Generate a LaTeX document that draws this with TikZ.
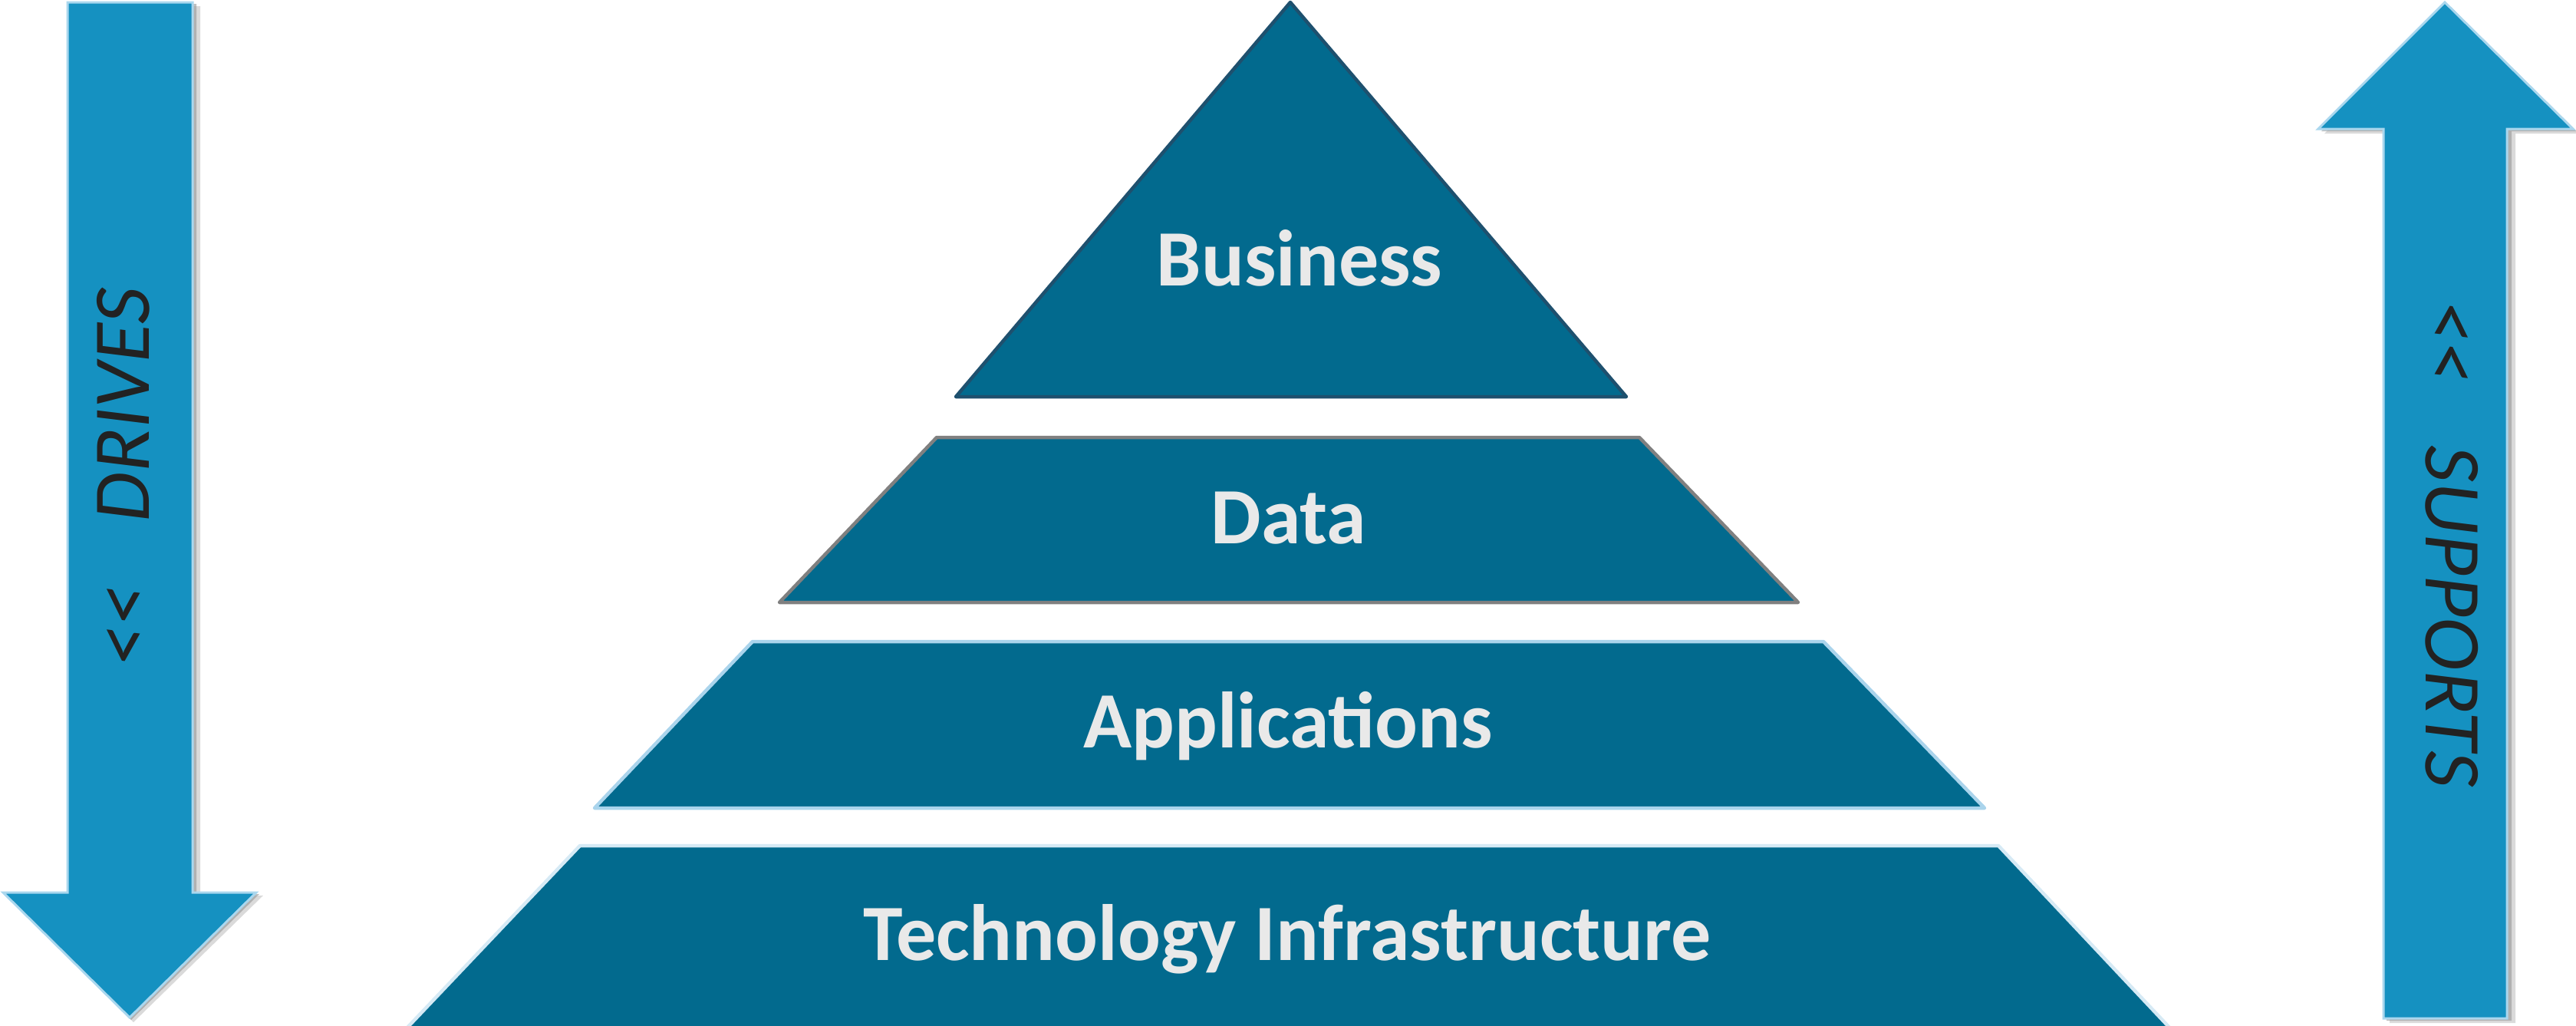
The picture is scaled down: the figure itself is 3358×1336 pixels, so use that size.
\documentclass[tikz,border=0pt]{standalone}
\usepackage{fontspec}
\setmainfont{Carlito}
\definecolor{pyrfill}{RGB}{2,106,142}
\definecolor{pyrtext}{RGB}{233,233,233}
\definecolor{arrfill}{RGB}{21,145,193}
\definecolor{arredge}{RGB}{170,215,238}
\definecolor{arrtext}{RGB}{34,34,34}
\definecolor{busedge}{RGB}{30,80,110}
\definecolor{dataedge}{RGB}{128,128,128}
\definecolor{appedge}{RGB}{170,212,236}
\definecolor{techedge}{RGB}{214,234,245}
\definecolor{shadowc}{RGB}{150,150,150}
\begin{document}
\begin{tikzpicture}[x=0.01cm,y=-0.01cm,
  layer/.style={fill=pyrfill, line width=0.045cm, line join=round},
  layertext/.style={text=pyrtext, font=\fontsize{29.6}{32}\bfseries\selectfont, inner sep=0pt, anchor=base},
  bigarrow/.style={fill=arrfill, draw=arredge, line width=0.03cm, line join=miter},
  arrshadow/.style={fill=shadowc, draw=none},
  arrowtext/.style={text=arrtext, font=\fontsize{29.9}{32}\itshape\selectfont, inner sep=0pt}
]
\useasboundingbox (0,0) rectangle (3358,1336);
% left arrow (DRIVES)
\fill[arrshadow, opacity=0.35] (96,8) -- (261,8) -- (261,1167) -- (343,1167) -- (174,1332) -- (10,1167) -- (96,1167) -- cycle;
\fill[arrshadow, opacity=0.6] (92,5) -- (256,5) -- (256,1165) -- (338,1165) -- (171,1329) -- (7,1165) -- (92,1165) -- cycle;
\draw[bigarrow] (88,3) -- (251,3) -- (251,1163) -- (334,1163) -- (169,1326) -- (4,1163) -- (88,1163) -- cycle;
\node[arrowtext, rotate=90] (drives) at (161,622) {<{}<\hspace{0.8em}DRIVES};
% right arrow (SUPPORTS)
\fill[arrshadow, opacity=0.35] (3195,9) -- (3362,174) -- (3279,174) -- (3279,1333) -- (3115,1333) -- (3115,174) -- (3030,174) -- cycle;
\fill[arrshadow, opacity=0.6] (3191,6) -- (3358,171) -- (3274,171) -- (3274,1330) -- (3111,1330) -- (3111,171) -- (3026,171) -- cycle;
\draw[bigarrow] (3187,3) -- (3354,168) -- (3268,168) -- (3268,1327) -- (3107,1327) -- (3107,168) -- (3022,168) -- cycle;
\node[arrowtext, rotate=-90] (supports) at (3196,709) {<{}<\hspace{0.8em}SUPPORTS};
% pyramid layers
\draw[layer, draw=busedge] (1682,3) -- (2120,517) -- (1246,517) -- cycle;
\draw[layer, draw=dataedge] (1221,570) -- (2137,570) -- (2344,785) -- (1016,785) -- cycle;
\draw[layer, draw=appedge] (981,836) -- (2377,836) -- (2587,1053) -- (775,1053) -- cycle;
\draw[layer, draw=techedge] (756,1102) -- (2605,1102) -- (2829,1340) -- (530,1340) -- cycle;
\node[layertext] (business) at (1694,372) {Business};
\node[layertext] (data) at (1680,708) {Data};
\node[layertext] (applications) at (1679,974) {Applications};
\node[layertext] (technology) at (1678,1251) {Technology Infrastructure};
\end{tikzpicture}
\end{document}
